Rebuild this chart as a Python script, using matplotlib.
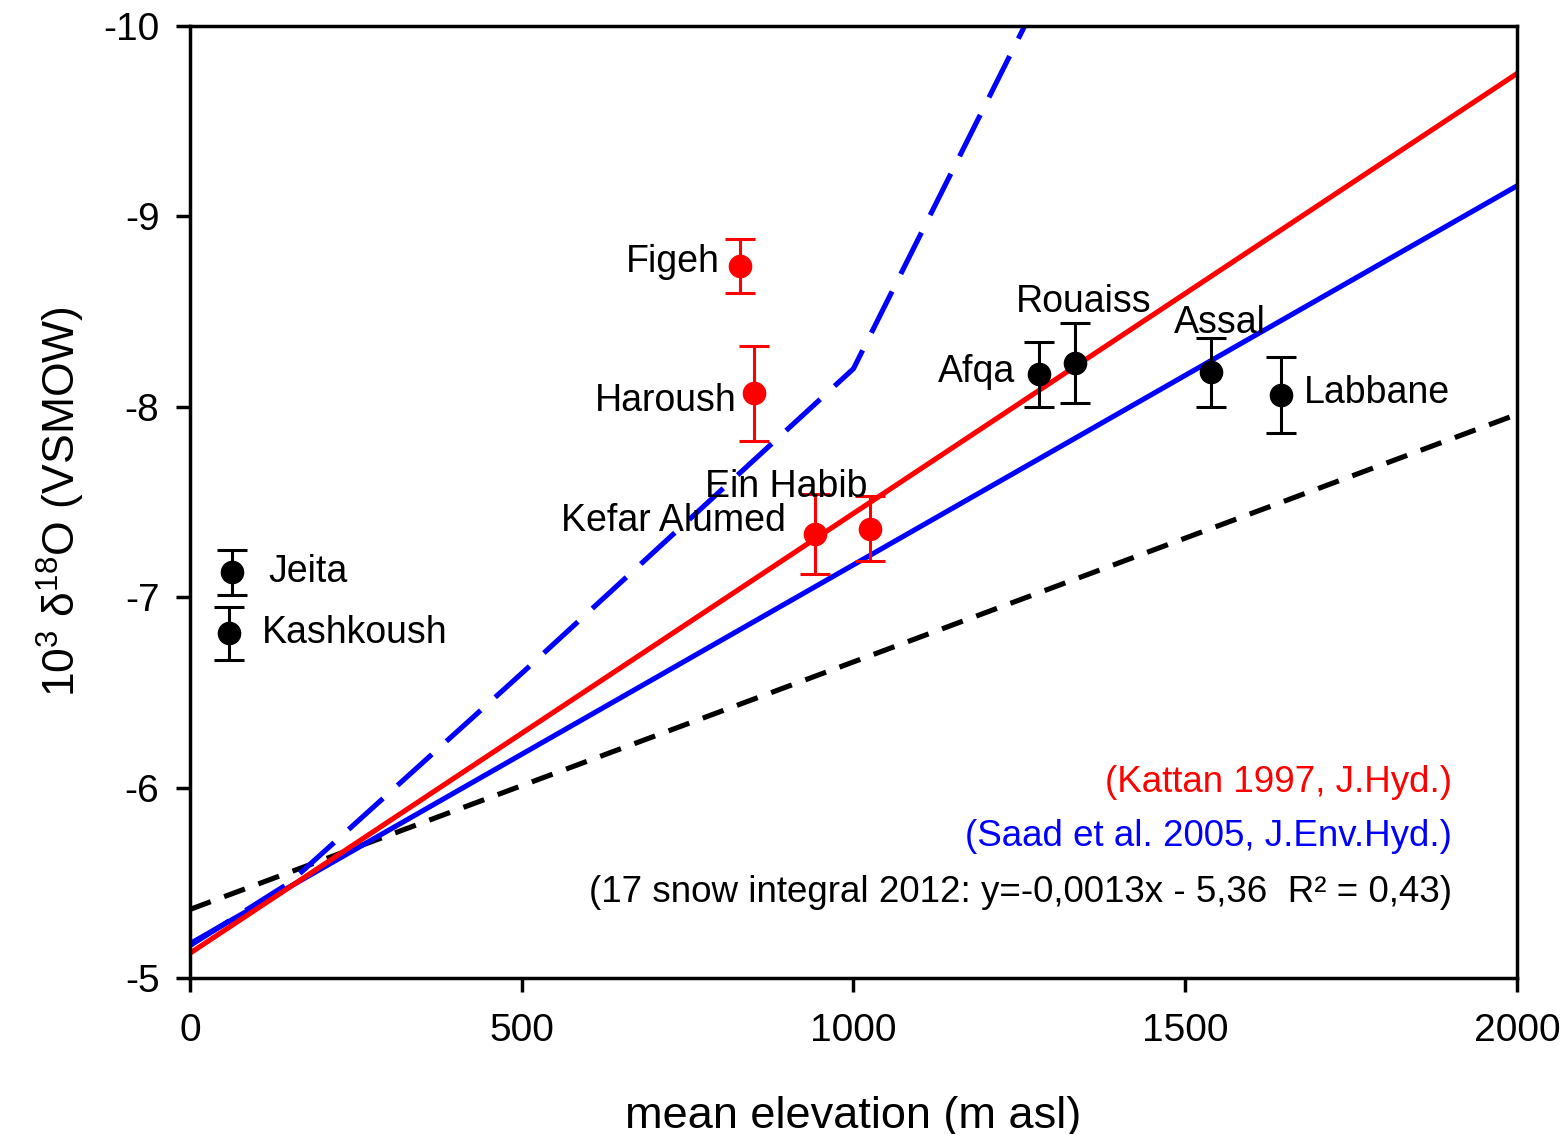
import numpy as np
import matplotlib
matplotlib.use('Agg')
import matplotlib.pyplot as plt

plt.rcParams['font.family'] = ['Liberation Sans', 'DejaVu Sans']
plt.rcParams['mathtext.fontset'] = 'custom'
plt.rcParams['mathtext.rm'] = 'Liberation Sans'
plt.rcParams['mathtext.it'] = 'Liberation Sans:italic'

# ── Springs (mean elevation, d18O, error) ─────────────────────────────────────
black_names = ['Jeita', 'Kashkoush', 'Afqa', 'Rouaiss', 'Assal', 'Labbane']
black_x     = [63, 59, 1280, 1334, 1539, 1644]
black_y     = [-7.13, -6.81, -8.17, -8.23, -8.18, -8.06]
black_err   = [0.12, 0.14, 0.17, 0.21, 0.18, 0.20]

red_names = ['Figeh', 'Haroush', 'Kefar Alumed', 'Ein Habib']
red_x     = [829, 850, 942, 1025]
red_y     = [-8.74, -8.07, -7.33, -7.36]
red_err   = [0.14, 0.25, 0.21, 0.17]

# ── Gradient lines ────────────────────────────────────────────────────────────
kattan_x = [0, 2000]
kattan_y = [-5.13, -9.75]
saad_x   = [0, 2000]
saad_y   = [-5.18, -9.16]
saad2_x  = [0, 150, 500, 1000, 1258]
saad2_y  = [-5.17, -5.50, -6.60, -8.20, -10.0]
snow_x   = [0, 2000]
snow_y   = [-5.36, -7.96]

# label anchors (data coords) and alignment
label_pos = {
    'Jeita':        (118, -7.13, 'left'),
    'Kashkoush':    (108, -6.81, 'left'),
    'Figeh':        (799, -8.76, 'right'),
    'Haroush':      (824, -8.03, 'right'),
    'Ein Habib':    (776, -7.58, 'left'),
    'Kefar Alumed': (559, -7.40, 'left'),
    'Afqa':         (1243, -8.18, 'right'),
    'Rouaiss':      (1245, -8.55, 'left'),
    'Assal':        (1483, -8.44, 'left'),
    'Labbane':      (1679, -8.07, 'left'),
}

fig = plt.figure(figsize=(15.65, 11.34), dpi=100)
ax = fig.add_axes([0.1214, 0.1376, 0.8479, 0.8395])

ax.plot(snow_x, snow_y, color='black', lw=3.7, ls=(0, (4.3, 2.8)))
ax.plot(saad2_x, saad2_y, color='#0000ff', lw=3.7, ls=(0, (9, 3.8)))
ax.plot(saad_x, saad_y, color='#0000ff', lw=3.7)
ax.plot(kattan_x, kattan_y, color='#ff0000', lw=3.7)

ax.errorbar(black_x, black_y, yerr=black_err, fmt='o', color='black',
            ms=16, elinewidth=2.2, capsize=11, capthick=2.2, zorder=5)
ax.errorbar(red_x, red_y, yerr=red_err, fmt='o', color='#ff0000',
            ms=16, elinewidth=2.2, capsize=11, capthick=2.2, zorder=5)

for name, (lx, ly, ha) in label_pos.items():
    ax.text(lx, ly, name, ha=ha, va='center', fontsize=27, zorder=6)

ax.text(0.951, 0.205, '(Kattan 1997, J.Hyd.)', transform=ax.transAxes,
        ha='right', va='center', fontsize=26.5, color='#ff0000')
ax.text(0.951, 0.149, '(Saad et al. 2005, J.Env.Hyd.)', transform=ax.transAxes,
        ha='right', va='center', fontsize=26.5, color='#0000ff')
ax.text(0.951, 0.090, '(17 snow integral 2012: y=-0,0013x - 5,36  R² = 0,43)',
        transform=ax.transAxes, ha='right', va='center', fontsize=26.5,
        color='black')

ax.set_xlim(0, 2000)
ax.set_ylim(-5, -10)
ax.set_xticks([0, 500, 1000, 1500, 2000])
ax.set_yticks([-5, -6, -7, -8, -9, -10])
ax.set_yticklabels(['-5', '-6', '-7', '-8', '-9', '-10'])
ax.tick_params(direction='out', length=10, width=2.5, labelsize=28, pad=12)
ax.tick_params(axis='x', pad=15)
for sp in ax.spines.values():
    sp.set_linewidth(2.5)

ax.set_xlabel('mean elevation (m asl)', fontsize=32.5, labelpad=34)
ax.set_ylabel(r'10$^3$ δ$^{18}$O (VSMOW)', fontsize=32, labelpad=12)

fig.savefig('out.png', dpi=100)
